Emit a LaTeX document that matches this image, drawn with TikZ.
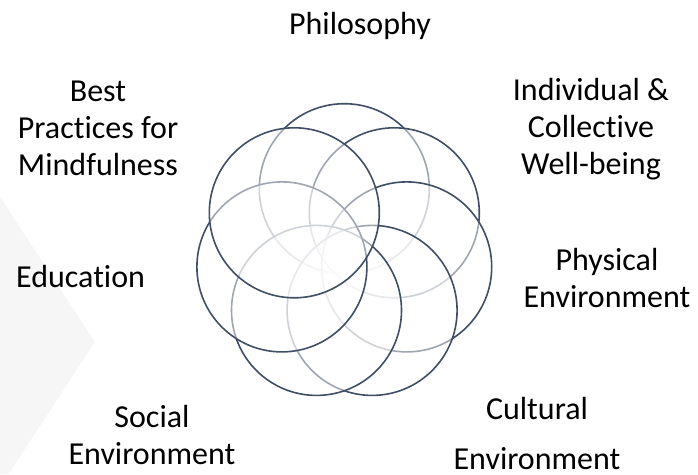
\documentclass[tikz,border=0pt]{standalone}
\usepackage{fontspec}
\setmainfont{Carlito}[Ligatures=NoCommon]
\definecolor{garis}{HTML}{404E66}
\definecolor{latar}{HTML}{F6F6F6}

\begin{document}
\begin{tikzpicture}[x=1pt,y=-1pt,
      cincin/.style={circle,draw=garis,line width=1.6pt,fill=white,
        fill opacity=0.5,minimum size=170pt,inner sep=0pt,outer sep=0pt},
      teks/.style={align=center,inner sep=0pt,
        font=\fontsize{32}{37}\selectfont}]

    \useasboundingbox (0,0) rectangle (698,474);

    % Latar: panah pucat di tepi kiri
    \fill[latar] (0,197) -- (95,342) -- (8.5,474) -- (0,474) -- cycle;

    % Tujuh cincin, searah jarum jam mulai dari atas
    \node[cincin] (filsafat) at (344.3,188.7) {};
    \node[cincin] (sejahtera) at (394.3,212.8) {};
    \node[cincin] (fisik) at (406.7,266.9) {};
    \node[cincin] (budaya) at (372.1,310.4) {};
    \node[cincin] (sosial) at (316.5,310.4) {};
    \node[cincin] (pendidikan) at (281.9,266.9) {};
    \node[cincin] (praktik) at (294.3,212.8) {};

    % Label di sekeliling
    \node[teks,anchor=base] (t-filsafat) at (360,34) {Philosophy};
    \node[teks] (t-praktik) at (98,128.5) {Best\\Practices for\\Mindfulness};
    \node[teks] (t-sejahtera) at (591,129) {Individual \&\\Collective\\Well-being};
    \node[teks] (t-fisik) at (607,278) {Physical\\Environment};
    \node[teks,anchor=base west] (t-pendidikan) at (16,287) {Education};
    \node[teks] (t-sosial) at (152,435) {Social\\Environment};
    \node[teks] (t-budaya) at (537,433) {Cultural\\[13pt]Environment};
  \end{tikzpicture}
\end{document}
